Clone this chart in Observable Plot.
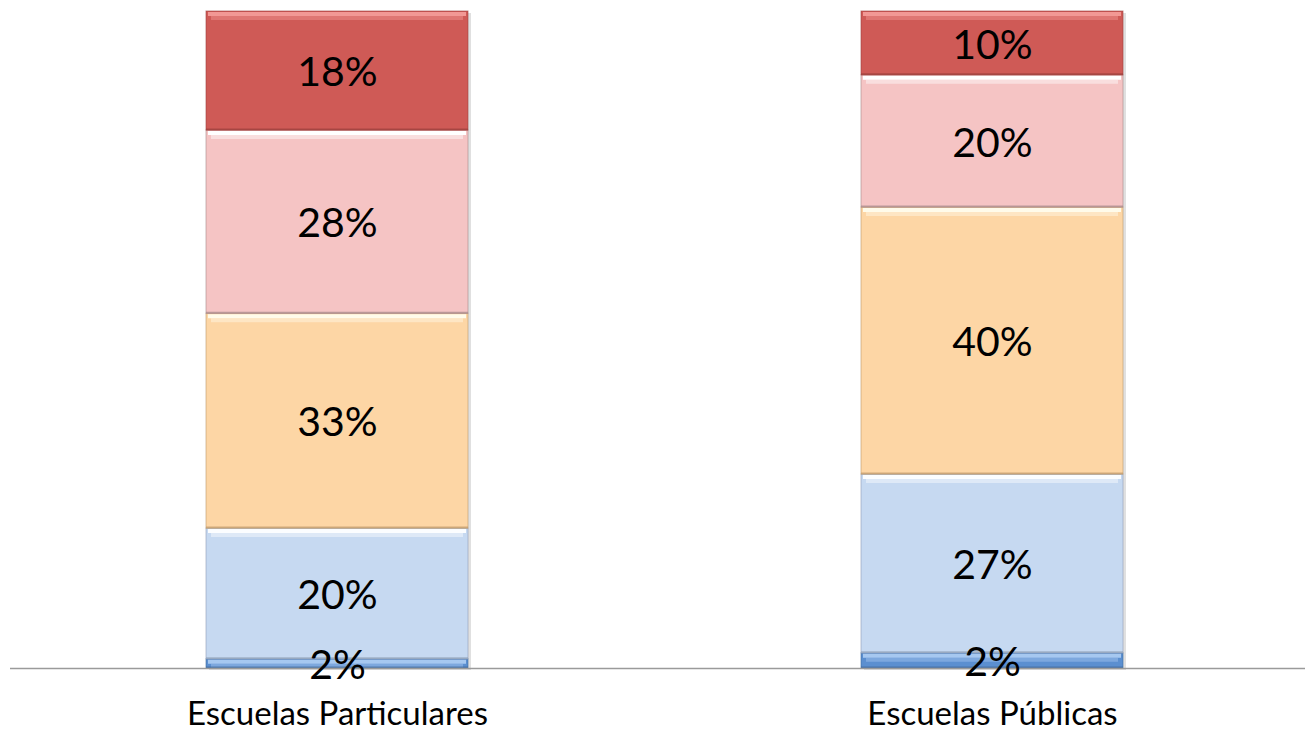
<!DOCTYPE html>
<html>
<head>
<meta charset="utf-8">
<script src="https://cdn.jsdelivr.net/npm/d3@7"></script>
<script src="https://cdn.jsdelivr.net/npm/@observablehq/plot@0.6"></script>
<style>
  html, body { margin: 0; padding: 0; background: #ffffff; }
  #chart svg { display: block; }
</style>
</head>
<body>
<div id="chart"></div>
<script>
// ---- data ----
const categories = ["Escuelas Particulares", "Escuelas Públicas"];
const series = ["Nivel 1", "Nivel 2", "Nivel 3", "Nivel 4", "Nivel 5"]; // bottom → top
const particulares = [1.4, 19.9, 32.7, 27.9, 18.1];
const publicas = [2.3, 27.2, 40.6, 20.1, 9.7];
const labelsParticulares = ["2%", "20%", "33%", "28%", "18%"];
const labelsPublicas = ["2%", "27%", "40%", "20%", "10%"];

// ---- styles ----
const fillColors = ["#5B8FD0", "#C6D9F1", "#FDD6A5", "#F5C4C4", "#CF5A56"];
const lightColors = ["#A6C8F0", "#FBFDFF", "#FFFBEA", "#FFFFFF", "#F29894"];
const darkColors = ["#3E6A9E", "#8F9FB8", "#BF9A6C", "#A88A8A", "#9C3F3C"];

const rows = [];
categories.forEach((cat, ci) => {
  const vals = ci === 0 ? particulares : publicas;
  const labs = ci === 0 ? labelsParticulares : labelsPublicas;
  series.forEach((s, si) => {
    rows.push({category: cat, series: s, si, value: vals[si], label: labs[si]});
  });
});

const stackOpts = {x: "category", y: "value", z: "series", offset: "normalize"};

const chart = Plot.plot({
  width: 1305,
  height: 732,
  marginLeft: 10,
  marginRight: 0,
  marginTop: 11,
  marginBottom: 64,
  style: {fontFamily: "Lato, 'Open Sans', sans-serif", background: "#ffffff"},
  x: {domain: categories, range: [205, 1123], paddingInner: 0.6, paddingOuter: 0, label: null},
  y: {domain: [0, 1], axis: null},
  color: {type: "identity"},
  marks: [
    // drop shadow
    Plot.barY(rows, Plot.stackY({...stackOpts, fill: "#000000", fillOpacity: 0.12, dx: 3, dy: 2})),
    // segments
    Plot.barY(rows, Plot.stackY({...stackOpts, fill: d => fillColors[d.si], stroke: d => darkColors[d.si], strokeWidth: 1, strokeOpacity: 0.6})),
    // bevel: top highlight (solid band + soft band)
    Plot.tickY(rows, Plot.stackY2({...stackOpts, stroke: d => lightColors[d.si], strokeWidth: 4, inset: 2, dy: 2.5})),
    Plot.tickY(rows, Plot.stackY2({...stackOpts, stroke: d => lightColors[d.si], strokeWidth: 4, strokeOpacity: 0.45, inset: 5, dy: 6.5})),
    // bevel: bottom shade
    Plot.tickY(rows, Plot.stackY1({...stackOpts, stroke: d => darkColors[d.si], strokeWidth: 2, strokeOpacity: 0.7, dy: -1})),
    // baseline
    Plot.ruleY([0], {stroke: "#9a9a9a", strokeWidth: 1.5}),
    // value labels
    Plot.text(rows, Plot.stackY({...stackOpts, text: "label", fill: "#000000", fontSize: 41, dy: 2})),
    // category axis
    Plot.axisX({tickSize: 0, tickPadding: 33, fontSize: 33, fill: "#000000", label: null})
  ]
});

document.getElementById("chart").appendChild(chart);
</script>
</body>
</html>
